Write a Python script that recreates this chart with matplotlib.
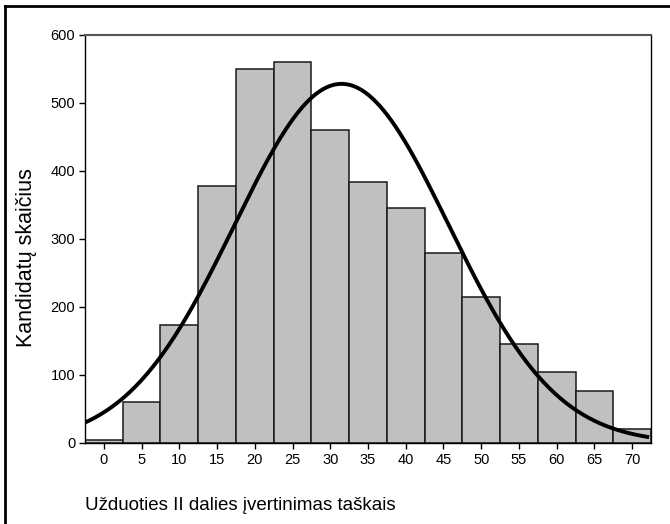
import matplotlib
matplotlib.use('Agg')
import matplotlib.pyplot as plt
import numpy as np

plt.rcParams['font.family'] = ['Liberation Sans', 'DejaVu Sans']

# histogram data (bin centres, counts)
bin_centres = [0, 5, 10, 15, 20, 25, 30, 35, 40, 45, 50, 55, 60, 65, 70]
counts = [5, 61, 173, 378, 550, 560, 461, 384, 346, 280, 215, 145, 105, 77, 20]
bin_width = 5

# fitted normal curve parameters
fit_mean = 31.5
fit_sd = 14.2
n_total = sum(counts)

y_ticks = [0, 100, 200, 300, 400, 500, 600]
x_label = "Užduoties II dalies įvertinimas taškais"
y_label = "Kandidatų skaičius"

fig = plt.figure(figsize=(6.7, 5.24), dpi=100)
ax = fig.add_axes([85/670, 1 - 443/524, (651 - 85)/670, (443 - 35)/524])

ax.bar(bin_centres, counts, width=bin_width, color='#c0c0c0',
       edgecolor='#1a1a1a', linewidth=1.1, zorder=2)

xs = np.linspace(-2.5, 72, 300)
ys = n_total * bin_width / (fit_sd * np.sqrt(2 * np.pi)) * np.exp(-0.5 * ((xs - fit_mean) / fit_sd) ** 2)
ax.plot(xs, ys, color='black', linewidth=2.8, zorder=3)

ax.set_xlim(-2.5, 72.5)
ax.set_ylim(0, 600)
ax.set_xticks(bin_centres)
ax.set_yticks(y_ticks)
ax.tick_params(direction='out', length=4, width=1, labelsize=10.5, pad=3)
ax.spines['top'].set_color('#555555')
ax.spines['top'].set_linewidth(1.5)
for side in ['right', 'left', 'bottom']:
    ax.spines[side].set_linewidth(1.0)

fig.text(27/670, 1 - 258/524, y_label, rotation=90, ha='center', va='center', fontsize=15.5)
fig.text(85/670, 1 - 505/524, x_label, ha='left', va='center', fontsize=13.5)

# outer frame
fig.add_artist(plt.Line2D([5/670, 5/670], [0, 1 - 5.5/524], color='black', linewidth=2))
fig.add_artist(plt.Line2D([5/670, 1], [1 - 5.5/524, 1 - 5.5/524], color='black', linewidth=2))

plt.savefig('out.png', dpi=100)
